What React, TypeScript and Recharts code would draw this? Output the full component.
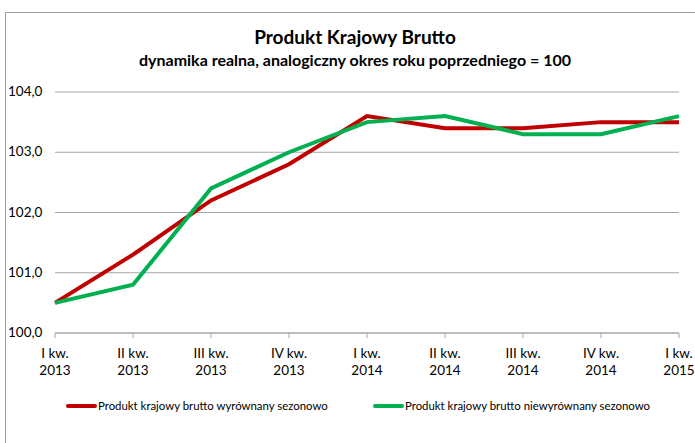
import React from "react";
import { LineChart, Line, XAxis, YAxis, CartesianGrid } from "recharts";

const categories = ["I kw.|2013", "II kw.|2013", "III kw.|2013", "IV kw.|2013", "I kw.|2014", "II kw.|2014", "III kw.|2014", "IV kw.|2014", "I kw.|2015"];
const adjusted = [100.5, 101.3, 102.2, 102.8, 103.6, 103.4, 103.4, 103.5, 103.5];
const unadjusted = [100.5, 100.8, 102.4, 103.0, 103.5, 103.6, 103.3, 103.3, 103.6];
const yTicks = [100, 101, 102, 103, 104];
const seriesNames = ["Produkt krajowy brutto wyrównany sezonowo", "Produkt krajowy brutto niewyrównany sezonowo"];
const title = "Produkt Krajowy Brutto";
const subtitle = "dynamika realna, analogiczny okres roku poprzedniego = 100";

const data = categories.map((c, i) => ({ cat: c, a: adjusted[i], b: unadjusted[i] }));

const FONT = "Lato, 'Open Sans', sans-serif";

const XTick = (props: any) => {
  const { x, y, payload } = props;
  const [l1, l2] = String(payload.value).split("|");
  return (
    <g>
      <text x={x} y={y + 18} textAnchor="middle" fontSize={13.5} fill="#000" fontFamily={FONT}>{l1}</text>
      <text x={x} y={y + 35} textAnchor="middle" fontSize={13.5} fill="#000" fontFamily={FONT}>{l2}</text>
    </g>
  );
};

const YTick = (props: any) => {
  const { y, payload } = props;
  return (
    <text x={8} y={y + 4} textAnchor="start" fontSize={13.5} fill="#000" fontFamily={FONT}>
      {Number(payload.value).toFixed(1).replace(".", ",")}
    </text>
  );
};

export default function App() {
  return (
    <div style={{ position: "absolute", left: 0, top: 0, width: 695, height: 443, overflow: "hidden", background: "#fff" }}>
      <div style={{ position: "absolute", left: 5, top: 12, width: 720, height: 460, border: "1px solid #a0a0a0", boxSizing: "border-box" }} />
      <div style={{ position: "absolute", left: 0, top: 25, width: 710, textAlign: "center", fontFamily: FONT, fontWeight: 700, fontSize: 19, color: "#000" }}>{title}</div>
      <div style={{ position: "absolute", left: 0, top: 50, width: 710, textAlign: "center", fontFamily: FONT, fontWeight: 700, fontSize: 16, color: "#000" }}>{subtitle}</div>
      <div style={{ position: "absolute", left: 0, top: 0 }}>
        <LineChart width={695} height={443} data={data} margin={{ top: 92, right: 16, left: 8, bottom: 60 }}>
          <CartesianGrid vertical={false} stroke="#a6a6a6" strokeWidth={1} />
          <XAxis dataKey="cat" interval={0} tick={<XTick />} axisLine={{ stroke: "#a6a6a6" }} tickLine={{ stroke: "#a6a6a6" }} tickSize={5} height={50} padding={{ left: 0, right: 0 }} />
          <YAxis domain={[100, 104]} ticks={yTicks} tick={<YTick />} axisLine={false} tickLine={false} width={47} />
          <Line dataKey="a" name={seriesNames[0]} stroke="#c00000" strokeWidth={4} dot={false} isAnimationActive={false} strokeLinejoin="miter" />
          <Line dataKey="b" name={seriesNames[1]} stroke="#00b050" strokeWidth={4} dot={false} isAnimationActive={false} strokeLinejoin="miter" />
        </LineChart>
      </div>
      <div style={{ position: "absolute", left: 66, top: 399, display: "flex", alignItems: "center", fontFamily: FONT, fontSize: 11.4, color: "#000" }}>
        <span style={{ display: "inline-block", width: 31, height: 4, background: "#c00000", borderRadius: 2, marginRight: 1 }} />
        <span>{seriesNames[0]}</span>
      </div>
      <div style={{ position: "absolute", left: 373, top: 399, display: "flex", alignItems: "center", fontFamily: FONT, fontSize: 11.4, color: "#000" }}>
        <span style={{ display: "inline-block", width: 31, height: 4, background: "#00b050", borderRadius: 2, marginRight: 1 }} />
        <span>{seriesNames[1]}</span>
      </div>
    </div>
  );
}
